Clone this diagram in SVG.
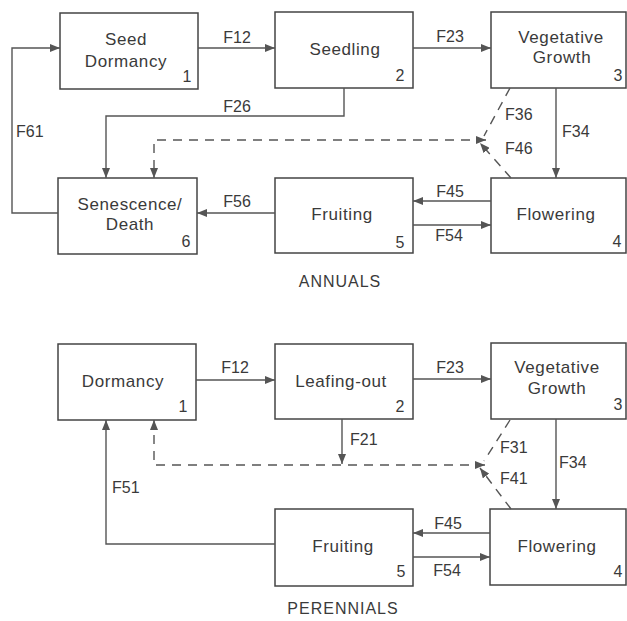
<svg xmlns="http://www.w3.org/2000/svg" width="627" height="621" viewBox="0 0 627 621">
<style>
  .box{fill:#fff;stroke:#444;stroke-width:1.5}
  .lbl{font-family:"Liberation Sans",Arial,sans-serif;font-size:17px;fill:#3a3a3a;text-anchor:middle;letter-spacing:0.6px}
  .num{font-family:"Liberation Sans",Arial,sans-serif;font-size:16px;fill:#3a3a3a;text-anchor:middle}
  .f{font-family:"Liberation Sans",Arial,sans-serif;font-size:16px;fill:#3a3a3a}
  .fc{text-anchor:middle}
  .ttl{font-family:"Liberation Sans",Arial,sans-serif;font-size:16px;fill:#3a3a3a;text-anchor:middle;letter-spacing:1px}
  .c{fill:none;stroke:#555;stroke-width:1.4}
  .d{fill:none;stroke:#555;stroke-width:1.4;stroke-dasharray:9 7}
</style>
<defs>
  <marker id="ah" viewBox="0 0 10 8" markerWidth="10" markerHeight="8" refX="10" refY="4" orient="auto-start-reverse" markerUnits="userSpaceOnUse">
    <path d="M0,0 L10,4 L0,8 z" fill="#555"/>
  </marker>
</defs>
<rect width="627" height="621" fill="#fff"/>

<!-- ANNUALS -->
<g id="a1"><rect class="box" x="60" y="13" width="138" height="76"/><text class="lbl" x="126" y="45">Seed</text><text class="lbl" x="126" y="67">Dormancy</text><text class="num" x="187" y="82">1</text></g>
<g id="a2"><rect class="box" x="275" y="12" width="138" height="76"/><text class="lbl" x="345" y="55">Seedling</text><text class="num" x="400" y="81">2</text></g>
<g id="a3"><rect class="box" x="491" y="12" width="135" height="76"/><text class="lbl" x="561" y="43">Vegetative</text><text class="lbl" x="562" y="63">Growth</text><text class="num" x="618" y="81">3</text></g>
<g id="a6"><rect class="box" x="58" y="178" width="139" height="76"/><text class="lbl" x="130" y="210">Senescence/</text><text class="lbl" x="130" y="230">Death</text><text class="num" x="186" y="247">6</text></g>
<g id="a5"><rect class="box" x="275" y="178" width="138" height="75"/><text class="lbl" x="342" y="220">Fruiting</text><text class="num" x="400" y="248">5</text></g>
<g id="a4"><rect class="box" x="491" y="178" width="135" height="75"/><text class="lbl" x="556" y="220">Flowering</text><text class="num" x="617" y="247">4</text></g>

<g id="connectors-annuals">
  <path class="c" d="M198,48 H275" marker-end="url(#ah)"/>
  <path class="c" d="M413,48 H491" marker-end="url(#ah)"/>
  <path class="c" d="M344,88 V116 H106 V178" marker-end="url(#ah)"/>
  <path class="c" d="M58,213 H12 V48 H60" marker-end="url(#ah)"/>
  <path class="c" d="M556,88 V178" marker-end="url(#ah)"/>
  <path class="c" d="M491,201 H413" marker-end="url(#ah)"/>
  <path class="c" d="M413,225 H491" marker-end="url(#ah)"/>
  <path class="c" d="M275,213 H197" marker-end="url(#ah)"/>
  <path class="d" d="M486,140 H154 V178" marker-start="url(#ah)" marker-end="url(#ah)"/>
  <path class="d" d="M510,88 L484,136"/>
  <path class="d" d="M511,178 L480,143" marker-end="url(#ah)"/>
  <text class="f fc" x="237" y="43">F12</text>
  <text class="f fc" x="450" y="42">F23</text>
  <text class="f fc" x="237" y="112">F26</text>
  <text class="f" x="16" y="137">F61</text>
  <text class="f" x="505" y="120">F36</text>
  <text class="f" x="505" y="154">F46</text>
  <text class="f" x="562" y="137">F34</text>
  <text class="f fc" x="450" y="197">F45</text>
  <text class="f fc" x="449" y="241">F54</text>
  <text class="f fc" x="237" y="207">F56</text>
</g>
<text class="ttl" x="340" y="287">ANNUALS</text>

<!-- PERENNIALS -->
<g id="p1"><rect class="box" x="58" y="344" width="138" height="76"/><text class="lbl" x="123" y="387">Dormancy</text><text class="num" x="183" y="412">1</text></g>
<g id="p2"><rect class="box" x="275" y="344" width="138" height="75"/><text class="lbl" x="341" y="387">Leafing-out</text><text class="num" x="400" y="412">2</text></g>
<g id="p3"><rect class="box" x="491" y="343" width="135" height="76"/><text class="lbl" x="557" y="373">Vegetative</text><text class="lbl" x="557" y="394">Growth</text><text class="num" x="618" y="410">3</text></g>
<g id="p5"><rect class="box" x="275" y="509" width="138" height="77"/><text class="lbl" x="343" y="552">Fruiting</text><text class="num" x="401" y="577">5</text></g>
<g id="p4"><rect class="box" x="490" y="509" width="136" height="76"/><text class="lbl" x="557" y="552">Flowering</text><text class="num" x="618" y="577">4</text></g>

<g id="connectors-perennials">
  <path class="c" d="M196,380 H275" marker-end="url(#ah)"/>
  <path class="c" d="M413,379 H491" marker-end="url(#ah)"/>
  <path class="c" d="M342,419 V464" marker-end="url(#ah)"/>
  <path class="c" d="M556,419 V509" marker-end="url(#ah)"/>
  <path class="c" d="M490,533 H413" marker-end="url(#ah)"/>
  <path class="c" d="M413,557 H490" marker-end="url(#ah)"/>
  <path class="c" d="M275,544 H106 V420" marker-end="url(#ah)"/>
  <path class="d" d="M485,465 H154 V420" marker-start="url(#ah)" marker-end="url(#ah)"/>
  <path class="d" d="M510,420 L484,461"/>
  <path class="d" d="M511,509 L480,468" marker-end="url(#ah)"/>
  <text class="f fc" x="235" y="373">F12</text>
  <text class="f fc" x="450" y="373">F23</text>
  <text class="f" x="350" y="445">F21</text>
  <text class="f" x="500" y="453">F31</text>
  <text class="f" x="500" y="484">F41</text>
  <text class="f" x="559" y="468">F34</text>
  <text class="f fc" x="448" y="529">F45</text>
  <text class="f fc" x="447" y="576">F54</text>
  <text class="f" x="112" y="493">F51</text>
</g>
<text class="ttl" x="343" y="614">PERENNIALS</text>
</svg>
